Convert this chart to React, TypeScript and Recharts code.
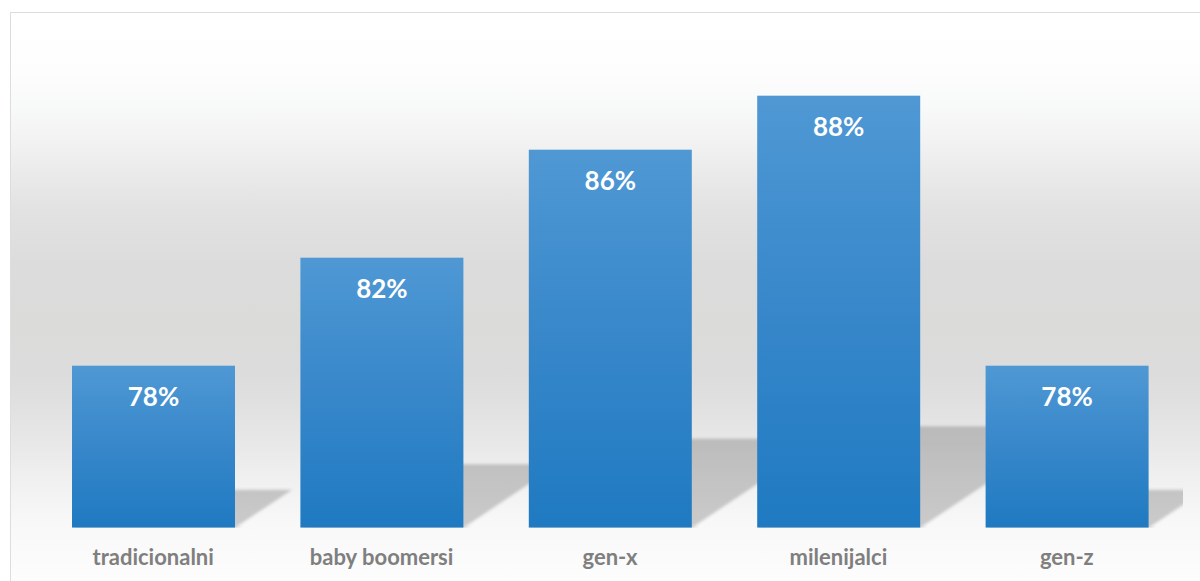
import React from 'react';
import { BarChart, Bar, XAxis, YAxis, LabelList } from 'recharts';

const categories = ['tradicionalni', 'baby boomersi', 'gen-x', 'milenijalci', 'gen-z'];
const values = [78, 82, 86, 88, 78];
const yDomain: [number, number] = [72, 90];

const data = categories.map((name, i) => ({ name, value: values[i] }));

const W = 1200;
const H = 581;

const BarShape = (props: any) => {
  const { x, y, width, height } = props;
  const b = y + height;
  const h = height * 0.235;
  const dx = h * 1.5;
  const pts = `${x},${b} ${x + width},${b} ${x + width + dx},${b - h} ${x + dx},${b - h}`;
  return (
    <g>
      <polygon points={pts} fill="#000" fillOpacity={0.19} filter="url(#shBlur)" clipPath="url(#plotClip)" />
      <rect x={x + 2} y={b - 1} width={width + 4} height={4} fill="#000" fillOpacity={0.06} filter="url(#shBlur)" />
      <rect x={x} y={y} width={width} height={height} fill="url(#barGrad)" />
    </g>
  );
};

const ValueLabel = (props: any) => {
  const { x, y, width, value } = props;
  return (
    <text
      x={x + width / 2}
      y={y + 40}
      textAnchor="middle"
      fill="#ffffff"
      fontFamily="Lato, 'Open Sans', sans-serif"
      fontWeight={700}
      fontSize={26}
    >
      {`${value}%`}
    </text>
  );
};

const CatTick = (props: any) => {
  const { x, y, payload } = props;
  return (
    <text
      x={x}
      y={y}
      dy={37}
      textAnchor="middle"
      fill="#7f7f7f"
      fontFamily="Lato, 'Open Sans', sans-serif"
      fontWeight={700}
      fontSize={22}
    >
      {payload.value}
    </text>
  );
};

export default function App() {
  return (
    <div style={{ position: 'absolute', left: 0, top: 0, width: W, height: H, overflow: 'hidden', background: '#ffffff' }}>
      <div
        style={{
          position: 'absolute',
          left: 10,
          top: 12,
          width: W + 20,
          height: H + 20,
          boxSizing: 'border-box',
          border: '1.5px solid #dddddd',
          background:
            'linear-gradient(to bottom, #ffffff 0%, #fdfdfd 10%, #f8f9f9 15.5%, #f3f3f4 21%, #eaeaea 27%, #e2e2e2 33%, #dcdcdc 42%, #dbdbda 52%, #dcdcdc 60%, #e0e0e0 65%, #e8e8e8 72%, #efefef 77%, #f8f8f8 85%, #fcfcfc 93%, #ffffff 100%)',
        }}
      />
      <div style={{ position: 'absolute', left: 0, top: 0 }}>
        <BarChart
          width={W}
          height={H}
          data={data}
          margin={{ top: 41.7, right: 19, bottom: 23.3, left: 39 }}
        >
          <defs>
            <linearGradient id="barGrad" x1="0" y1="0" x2="0" y2="1">
              <stop offset="0%" stopColor="#4f98d4" />
              <stop offset="50%" stopColor="#3787ca" />
              <stop offset="100%" stopColor="#1f7ac1" />
            </linearGradient>
            <filter id="shBlur" x="-20%" y="-20%" width="140%" height="140%">
              <feGaussianBlur stdDeviation="1.6" />
            </filter>
            <clipPath id="plotClip">
              <rect x={0} y={0} width={1183} height={H} />
            </clipPath>
          </defs>
          <YAxis hide domain={yDomain} allowDataOverflow />
          <XAxis
            dataKey="name"
            axisLine={false}
            tickLine={false}
            tickSize={0}
            tickMargin={0}
            height={30}
            tick={<CatTick />}
            interval={0}
          />
          <Bar dataKey="value" barSize={163} shape={<BarShape />} isAnimationActive={false}>
            <LabelList dataKey="value" content={<ValueLabel />} />
          </Bar>
        </BarChart>
      </div>
    </div>
  );
}
